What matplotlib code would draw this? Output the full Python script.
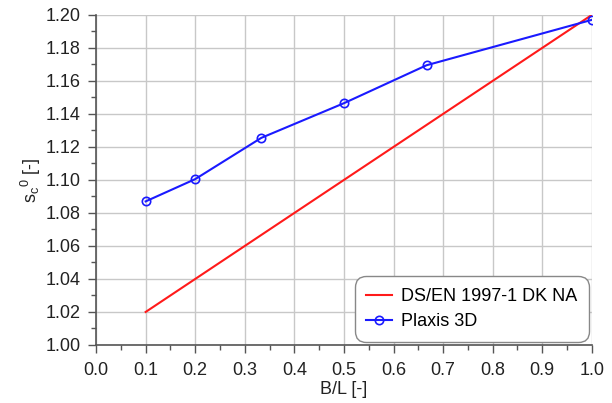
#!/usr/bin/env python3
"""Shape factor s_c^0 versus B/L: code value against Plaxis 3D."""

import matplotlib
matplotlib.use("Agg")
import matplotlib.pyplot as plt
from matplotlib.ticker import MultipleLocator

plt.rcParams["font.family"] = ["Liberation Sans", "DejaVu Sans"]

code_bl = [0.1, 1.0]
code_sc = [1.02, 1.20]

plaxis_bl = [0.1, 0.2, 1 / 3, 0.5, 2 / 3, 1.0]
plaxis_sc = [1.087, 1.1005, 1.1255, 1.1465, 1.1695, 1.197]


def main() -> None:
    fig = plt.figure(figsize=(6.12, 4.03), dpi=100)
    ax = fig.add_axes([0.157, 0.144, 0.810, 0.819])

    ax.plot(code_bl, code_sc, color="#ff1a1a", lw=1.5, label="DS/EN 1997-1 DK NA")
    ax.plot(plaxis_bl, plaxis_sc, color="#1a1aff", lw=1.5, marker="o", ms=6,
            mfc="none", mec="#1a1aff", mew=1.2, label="Plaxis 3D")

    ax.set_xlim(0.0, 1.0)
    ax.set_ylim(1.0, 1.2)
    ax.xaxis.set_major_locator(MultipleLocator(0.1))
    ax.xaxis.set_minor_locator(MultipleLocator(0.05))
    ax.yaxis.set_major_locator(MultipleLocator(0.02))
    ax.yaxis.set_minor_locator(MultipleLocator(0.01))
    ax.xaxis.set_major_formatter(lambda v, p: f"{v:.1f}")
    ax.yaxis.set_major_formatter(lambda v, p: f"{v:.2f}")

    ax.grid(True, which="major", color="#c8c8c8", lw=1.0)
    ax.set_axisbelow(True)
    for side in ("top", "right"):
        ax.spines[side].set_visible(False)
    for side in ("left", "bottom"):
        ax.spines[side].set_color("#555555")
        ax.spines[side].set_linewidth(1.2)
    ax.tick_params(which="major", length=6, width=1, color="#555555",
                   labelsize=13, labelcolor="#222222")
    ax.tick_params(which="minor", length=3.5, width=1, color="#555555")
    ax.tick_params(axis="x", which="major", pad=6.5)
    ax.tick_params(axis="y", which="major", pad=5)

    ax.set_xlabel("B/L [-]", fontsize=13, color="#222222", labelpad=1)
    ax.set_ylabel(r"s$_\mathregular{c}$$^\mathregular{0}$ [-]", fontsize=13,
                  color="#222222", labelpad=2)

    leg = ax.legend(loc="lower right", bbox_to_anchor=(1.0, 0.0), fontsize=13,
                    frameon=True, fancybox=True, handlelength=1.4,
                    borderpad=0.65, labelspacing=0.45, handletextpad=0.5,
                    borderaxespad=0.17)
    frame = leg.get_frame()
    frame.set_edgecolor("#888888")
    frame.set_linewidth(1.0)
    frame.set_alpha(1.0)
    frame.set_boxstyle("round", pad=0, rounding_size=0.6)

    fig.savefig("out.png", dpi=100)
    plt.close(fig)


if __name__ == "__main__":
    main()
